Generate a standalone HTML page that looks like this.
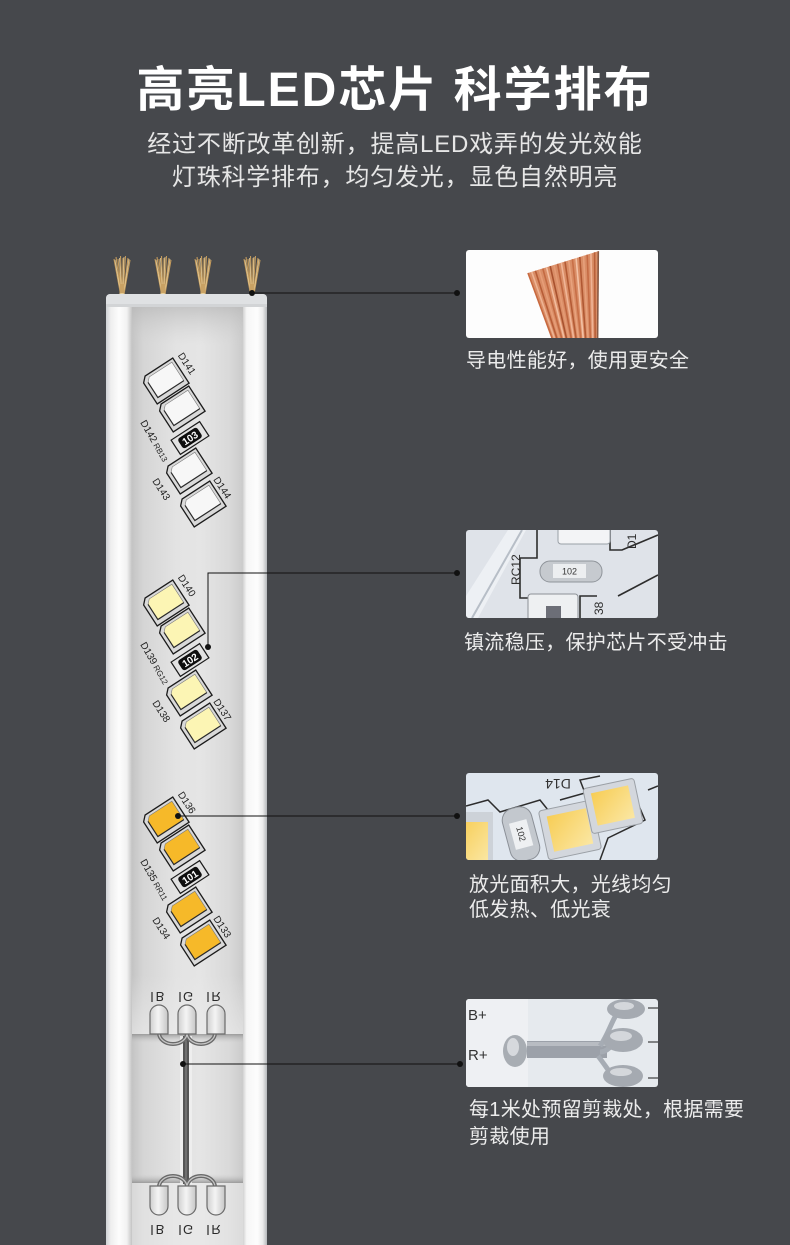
<!DOCTYPE html>
<html><head><meta charset="utf-8">
<style>
html,body{margin:0;padding:0;}
body{width:790px;height:1245px;background:#46484c;position:relative;overflow:hidden;font-family:"Liberation Sans","Noto Sans CJK SC",sans-serif;}
svg{position:absolute;left:0;top:0;}
.t{position:absolute;white-space:nowrap;}
#title{left:0;width:790px;text-align:center;top:61px;font-size:48px;font-weight:bold;color:#fff;letter-spacing:2px;line-height:60px;}
.sub{left:0;width:790px;text-align:center;font-size:24px;color:#e6e6e6;letter-spacing:0.8px;line-height:30px;}
.lbl{font-size:20px;color:#ececec;letter-spacing:0.3px;}
.lb{font-family:"Liberation Sans",sans-serif;font-size:10px;fill:#1e1e1e;}
</style></head><body>
<svg width="790" height="1245" viewBox="0 0 790 1245">
<defs>
 <linearGradient id="railL" x1="0" x2="1" y1="0" y2="0">
  <stop offset="0" stop-color="#cfd2d5"/><stop offset="0.18" stop-color="#eeeeee"/><stop offset="0.5" stop-color="#fdfdfd"/><stop offset="0.8" stop-color="#f2f2f2"/><stop offset="1" stop-color="#c4c4c4"/>
 </linearGradient>
 <linearGradient id="railR" x1="0" x2="1" y1="0" y2="0">
  <stop offset="0" stop-color="#d2d2d2"/><stop offset="0.15" stop-color="#f6f6f6"/><stop offset="0.6" stop-color="#fdfdfd"/><stop offset="0.82" stop-color="#ececec"/><stop offset="1" stop-color="#b5b8bb"/>
 </linearGradient>
 <linearGradient id="chan" x1="0" x2="1" y1="0" y2="0">
  <stop offset="0" stop-color="#c4c4c4"/><stop offset="0.1" stop-color="#d5d5d5"/><stop offset="0.4" stop-color="#e3e3e3"/><stop offset="0.62" stop-color="#e5e5e5"/><stop offset="0.88" stop-color="#d9d9d9"/><stop offset="1" stop-color="#cbcbcb"/>
 </linearGradient>
 <linearGradient id="chanTop" x1="0" x2="0" y1="0" y2="1">
  <stop offset="0" stop-color="#b5b5b5" stop-opacity="0.7"/><stop offset="1" stop-color="#cfcfcf" stop-opacity="0"/>
 </linearGradient>
 <linearGradient id="fadeIn" x1="0" x2="0" y1="0" y2="1">
  <stop offset="0" stop-color="#ececec" stop-opacity="0"/><stop offset="1" stop-color="#ececec" stop-opacity="0.6"/>
 </linearGradient>
 <linearGradient id="shDown" x1="0" x2="0" y1="0" y2="1">
  <stop offset="0" stop-color="#8d8d8d" stop-opacity="0.8"/><stop offset="1" stop-color="#c8c8c8" stop-opacity="0"/>
 </linearGradient>
 <linearGradient id="shUp" x1="0" x2="0" y1="1" y2="0">
  <stop offset="0" stop-color="#8d8d8d" stop-opacity="0.8"/><stop offset="1" stop-color="#c8c8c8" stop-opacity="0"/>
 </linearGradient>
 <linearGradient id="pad" x1="0" x2="1" y1="0" y2="0">
  <stop offset="0" stop-color="#cfcfcf"/><stop offset="0.45" stop-color="#f4f4f4"/><stop offset="1" stop-color="#c6c6c6"/>
 </linearGradient>
 <linearGradient id="yel" x1="0" x2="1" y1="0" y2="1">
  <stop offset="0" stop-color="#f7cd55"/><stop offset="1" stop-color="#fbe7a4"/>
 </linearGradient>
 <g id="chip">
  <path d="M-19,-10 L-14,-15 L19,-15 L19,15 L-19,15 Z" fill="#d9d9d9" stroke="#1b1b1b" stroke-width="1.3"/>
  <path d="M-15,-8 L-11,-12 L16,-12 L16,10 L-15,10 Z" stroke="#7a7a7a" stroke-width="0.6"/>
  <path d="M-15,-8 V10 H16" fill="none" stroke="#2a2a2a" stroke-width="1.2"/>
 </g>
 <g id="wire">
  <path d="M-8,259 L-1.5,294 M-6,257 L-1,294 M-4,259 L-0.5,294 M-1.5,256 L0,294 M1,258 L0.5,294 M3.5,256 L1,294 M6,258 L1.5,294 M8,260 L2,294" stroke="#c29a5c" stroke-width="1.1" fill="none"/>
  <path d="M-7,260 L-1.2,294 M-2.5,258 L-0.3,294 M2,257 L0.7,294 M7,259 L1.7,294" stroke="#e6cc98" stroke-width="0.8" fill="none"/>
  <rect x="-2.5" y="284" width="5" height="12" fill="#c9a264"/>
  <ellipse cx="0" cy="296" rx="4" ry="3" fill="#e9d3a0"/>
 </g>
 <clipPath id="c1"><rect x="466" y="250" width="192" height="88" rx="3"/></clipPath>
 <clipPath id="c2"><rect x="466" y="530" width="192" height="88" rx="3"/></clipPath>
 <clipPath id="c3"><rect x="466" y="773" width="192" height="87" rx="3"/></clipPath>
 <clipPath id="c4"><rect x="466" y="999" width="192" height="88" rx="3"/></clipPath>
</defs>

<!-- wires -->
<use href="#wire" transform="translate(122,0)"/>
<use href="#wire" transform="translate(163,0)"/>
<use href="#wire" transform="translate(203,0)"/>
<use href="#wire" transform="translate(252,0)"/>

<!-- strip -->
<rect x="106" y="294" width="161" height="960" rx="5" fill="#e6e6e6"/>
<rect x="106" y="305" width="26" height="945" fill="url(#railL)"/>
<rect x="132" y="305" width="111" height="945" fill="url(#chan)"/>
<rect x="132" y="305" width="111" height="40" fill="url(#chanTop)"/>
<rect x="243" y="305" width="24" height="945" fill="url(#railR)"/>
<rect x="106" y="294" width="161" height="13" rx="4" fill="#dfe1e3"/>
<rect x="106" y="304" width="161" height="3" fill="#d2d4d6"/>

<!-- LED group 1 -->
<g>
<use href="#chip" fill="#f7f7f7" transform="translate(165,381) rotate(-33)"/>
<use href="#chip" fill="#f7f7f7" transform="translate(181,409) rotate(-33)"/>
<use href="#chip" fill="#f7f7f7" transform="translate(188,471) rotate(-33)"/>
<use href="#chip" fill="#f7f7f7" transform="translate(202,504) rotate(-33)"/>
<g transform="translate(190,438) rotate(-33)">
 <rect x="-17" y="-8.5" width="34" height="17" fill="#e2e2e2" stroke="#1b1b1b" stroke-width="1.2"/>
 <rect x="-11.5" y="-6" width="23" height="12" rx="3" fill="#0e0e0e"/>
 <text x="0" y="3.6" text-anchor="middle" font-size="10" fill="#fff" font-weight="bold" font-family="Liberation Sans">103</text>
</g>
<text class="lb" transform="translate(177.5,355.4) rotate(57)">D141</text>
<text class="lb" transform="translate(140,422.5) rotate(60)">D142<tspan font-size="8"> RB13</tspan></text>
<text class="lb" transform="translate(152,481) rotate(57)">D143</text>
<text class="lb" transform="translate(213,479.5) rotate(57)">D144</text>
</g>

<!-- LED group 2 -->
<g transform="translate(0,222)">
<use href="#chip" fill="#fcf5b4" transform="translate(165,381) rotate(-33)"/>
<use href="#chip" fill="#fcf5b4" transform="translate(181,409) rotate(-33)"/>
<use href="#chip" fill="#fcf5b4" transform="translate(188,471) rotate(-33)"/>
<use href="#chip" fill="#fcf5b4" transform="translate(202,504) rotate(-33)"/>
<g transform="translate(190,438) rotate(-33)">
 <rect x="-17" y="-8.5" width="34" height="17" fill="#e2e2e2" stroke="#1b1b1b" stroke-width="1.2"/>
 <rect x="-11.5" y="-6" width="23" height="12" rx="3" fill="#0e0e0e"/>
 <text x="0" y="3.6" text-anchor="middle" font-size="10" fill="#fff" font-weight="bold" font-family="Liberation Sans">102</text>
</g>
<text class="lb" transform="translate(177.5,355.4) rotate(57)">D140</text>
<text class="lb" transform="translate(140,422.5) rotate(60)">D139<tspan font-size="8"> RG12</tspan></text>
<text class="lb" transform="translate(152,481) rotate(57)">D138</text>
<text class="lb" transform="translate(213,479.5) rotate(57)">D137</text>
</g>

<!-- LED group 3 -->
<g transform="translate(0,439)">
<use href="#chip" fill="#f6b929" transform="translate(165,381) rotate(-33)"/>
<use href="#chip" fill="#f6b929" transform="translate(181,409) rotate(-33)"/>
<use href="#chip" fill="#f6b929" transform="translate(188,471) rotate(-33)"/>
<use href="#chip" fill="#f6b929" transform="translate(202,504) rotate(-33)"/>
<g transform="translate(190,438) rotate(-33)">
 <rect x="-17" y="-8.5" width="34" height="17" fill="#e2e2e2" stroke="#1b1b1b" stroke-width="1.2"/>
 <rect x="-11.5" y="-6" width="23" height="12" rx="3" fill="#0e0e0e"/>
 <text x="0" y="3.6" text-anchor="middle" font-size="10" fill="#fff" font-weight="bold" font-family="Liberation Sans">101</text>
</g>
<text class="lb" transform="translate(177.5,355.4) rotate(57)">D136</text>
<text class="lb" transform="translate(140,422.5) rotate(60)">D135<tspan font-size="8"> RR11</tspan></text>
<text class="lb" transform="translate(152,481) rotate(57)">D134</text>
<text class="lb" transform="translate(213,479.5) rotate(57)">D133</text>
</g>

<!-- bottom cut section -->
<rect x="132" y="975" width="111" height="59" fill="url(#fadeIn)"/>
<rect x="132" y="1034" width="111" height="9" fill="url(#shDown)"/>
<rect x="132" y="1174" width="111" height="9" fill="url(#shUp)"/>
<rect x="132" y="1183" width="111" height="62" fill="#ececec" opacity="0.5"/>
<!-- labels -->
<g font-family="Liberation Sans" font-size="13" fill="#2a2a2a">
 <text transform="translate(160,992) scale(1,-1)" text-anchor="middle">B</text>
 <text transform="translate(188,992) scale(1,-1)" text-anchor="middle">G</text>
 <text transform="translate(216,992) scale(1,-1)" text-anchor="middle">R</text>
 <text transform="translate(160,1225) scale(1,-1)" text-anchor="middle">B</text>
 <text transform="translate(188,1225) scale(1,-1)" text-anchor="middle">G</text>
 <text transform="translate(216,1225) scale(1,-1)" text-anchor="middle">R</text>
</g>
<g stroke="#2a2a2a" stroke-width="1.2">
 <path d="M152,992 V1002 M180,992 V1002 M208,992 V1002 M152,1225 V1235 M180,1225 V1235 M208,1225 V1235"/>
</g>
<!-- wire -->
<rect x="180" y="1036" width="12" height="148" fill="#f2f2f2" opacity="0.75"/>
<rect x="183" y="1036" width="6" height="148" fill="#555"/>
<line x1="186" y1="1036" x2="186" y2="1184" stroke="#8a8a8a" stroke-width="1"/>
<!-- arcs -->
<g fill="none">
 <path d="M159,1033 A14,11 0 0 0 187,1033 M187,1033 A14,11 0 0 0 215,1033" stroke="#6a6a6a" stroke-width="4"/>
 <path d="M159,1033 A14,11 0 0 0 187,1033 M187,1033 A14,11 0 0 0 215,1033" stroke="#c8c8c8" stroke-width="1.2"/>
 <path d="M159,1187 A14,11 0 0 1 187,1187 M187,1187 A14,11 0 0 1 215,1187" stroke="#6a6a6a" stroke-width="4"/>
 <path d="M159,1187 A14,11 0 0 1 187,1187 M187,1187 A14,11 0 0 1 215,1187" stroke="#c8c8c8" stroke-width="1.2"/>
</g>
<!-- pads -->
<g fill="url(#pad)" stroke="#6b6b6b" stroke-width="1.2">
 <path d="M150,1034 V1014 A9,9 0 0 1 168,1014 V1034 Z"/>
 <path d="M178,1034 V1014 A9,9 0 0 1 196,1014 V1034 Z"/>
 <path d="M207,1034 V1014 A9,9 0 0 1 225,1014 V1034 Z"/>
 <path d="M150,1186 V1206 A9,9 0 0 0 168,1206 V1186 Z"/>
 <path d="M178,1186 V1206 A9,9 0 0 0 196,1206 V1186 Z"/>
 <path d="M207,1186 V1206 A9,9 0 0 0 225,1206 V1186 Z"/>
</g>

<!-- connectors -->
<g stroke="#111" stroke-width="1" fill="none">
 <path d="M252,293 H457"/>
 <path d="M208,647 V573 H457"/>
 <path d="M178,816 H457"/>
 <path d="M183,1064 H460"/>
</g>
<g fill="#111">
 <circle cx="252" cy="293" r="3"/><circle cx="457" cy="293" r="3"/>
 <circle cx="208" cy="647" r="3"/><circle cx="457" cy="573" r="3"/>
 <circle cx="178" cy="816" r="3"/><circle cx="457" cy="816" r="3"/>
 <circle cx="183" cy="1064" r="3"/><circle cx="460" cy="1064" r="3"/>
</g>

<!-- thumb 1: copper wires -->
<g clip-path="url(#c1)">
 <rect x="466" y="250" width="192" height="88" fill="#fdfdfd"/>
 <polygon points="552,338 598,338 599,251 528,273" fill="#d98d66"/>
 <g stroke-width="1.6">
  <line x1="552" y1="338" x2="528" y2="273" stroke="#c8693f"/>
  <line x1="554.4" y1="338" x2="531.7" y2="271.9" stroke="#eeb393"/>
  <line x1="556.8" y1="338" x2="535.4" y2="270.7" stroke="#b85d37"/>
  <line x1="559.2" y1="338" x2="539.1" y2="269.6" stroke="#e79d77"/>
  <line x1="561.6" y1="338" x2="542.8" y2="268.4" stroke="#c46a42"/>
  <line x1="564" y1="338" x2="546.5" y2="267.3" stroke="#f2bc9e"/>
  <line x1="566.4" y1="338" x2="550.2" y2="266.1" stroke="#a9522f"/>
  <line x1="568.8" y1="338" x2="553.9" y2="265" stroke="#e49a74"/>
  <line x1="571.2" y1="338" x2="557.6" y2="263.8" stroke="#c06640"/>
  <line x1="573.6" y1="338" x2="561.3" y2="262.7" stroke="#f0b597"/>
  <line x1="576" y1="338" x2="565" y2="261.5" stroke="#b45b35"/>
  <line x1="578.4" y1="338" x2="568.7" y2="260.4" stroke="#e8a27d"/>
  <line x1="580.8" y1="338" x2="572.4" y2="259.2" stroke="#c86f47"/>
  <line x1="583.2" y1="338" x2="576.1" y2="258.1" stroke="#f3c1a5"/>
  <line x1="585.6" y1="338" x2="579.8" y2="256.9" stroke="#b05833"/>
  <line x1="588" y1="338" x2="583.5" y2="255.8" stroke="#e6a07b"/>
  <line x1="590.4" y1="338" x2="587.2" y2="254.6" stroke="#c56b44"/>
  <line x1="592.8" y1="338" x2="590.9" y2="253.5" stroke="#efb396"/>
  <line x1="595.2" y1="338" x2="594.6" y2="252.3" stroke="#b9603a"/>
  <line x1="597.6" y1="338" x2="598.3" y2="251.2" stroke="#8a5a44"/>
 </g>
</g>

<!-- thumb 2: resistor closeup -->
<g clip-path="url(#c2)">
 <rect x="466" y="530" width="192" height="88" fill="#dfe3e9"/>
 <path d="M466,596 L508,530 L526,530 L478,618 L466,618 Z" fill="#edf0f4"/>
 <path d="M472,618 L522,530" stroke="#b7bec7" stroke-width="2"/>
 <g stroke="#2d2d2d" stroke-width="1.6" fill="none">
  <path d="M537,530 V558 H520 V598 H534"/>
  <path d="M580,618 V596 H597"/>
  <path d="M610,530 V550 H622 L658,535"/>
  <path d="M618,596 L658,575"/>
 </g>
 <rect x="558" y="527" width="52" height="17" rx="3" fill="#f3f4f6" stroke="#9aa0a7"/>
 <rect x="540" y="561" width="62" height="21" rx="10" fill="#c6cacf" stroke="#8f949a"/>
 <rect x="553" y="564" width="33" height="14" fill="#eceef0"/>
 <text x="569.5" y="574.5" text-anchor="middle" font-family="Liberation Sans" font-size="9" fill="#333">102</text>
 <rect x="528" y="594" width="50" height="28" rx="3" fill="#eef0f2" stroke="#8c9096"/>
 <rect x="546" y="606" width="15" height="14" fill="#6c6e77"/>
 <g font-family="Liberation Sans" font-size="12" fill="#2d2d2d">
  <text transform="translate(520,585) rotate(-90)">RC12</text>
  <text transform="translate(603,615) rotate(-90)">38</text>
  <text transform="translate(636,549) rotate(-90)">D1</text>
 </g>
</g>

<!-- thumb 3: LED closeup -->
<g clip-path="url(#c3)">
 <rect x="466" y="773" width="192" height="87" fill="#dfe6ee"/>
 <g stroke="#2d2d2d" stroke-width="1.5" fill="none">
  <path d="M466,806 L488,800 L500,812 L540,800 L548,810"/>
  <path d="M560,800 L585,793 L580,780 L600,776"/>
  <path d="M633,792 L645,820 L608,838 L600,860"/>
  <path d="M648,790 L658,786"/>
 </g>
 <rect x="455" y="812" width="38" height="52" fill="#cdd2d8"/>
 <rect x="459" y="822" width="29" height="40" fill="url(#yel)"/>
 <g transform="translate(521,834) rotate(-15)">
  <rect x="-15" y="-27" width="30" height="54" rx="12" fill="#c3c8ce" stroke="#8b9097"/>
  <rect x="-9" y="-13" width="18" height="27" fill="#eef0f2"/>
  <text transform="rotate(90)" x="0" y="3" text-anchor="middle" font-family="Liberation Sans" font-size="9" fill="#333">102</text>
 </g>
 <g transform="translate(570,830) rotate(-12)">
  <rect x="-27" y="-25" width="54" height="50" rx="3" fill="#d3d7dd" stroke="#9ba0a6"/>
  <rect x="-20" y="-18" width="40" height="36" fill="url(#yel)"/>
 </g>
 <g transform="translate(613,806) rotate(-12)">
  <rect x="-26" y="-23" width="52" height="46" rx="3" fill="#d3d7dd" stroke="#9ba0a6"/>
  <rect x="-19" y="-17" width="38" height="33" fill="url(#yel)"/>
 </g>
 <text transform="translate(558,779) rotate(180)" text-anchor="middle" font-family="Liberation Sans" font-size="14" fill="#333">D14</text>
</g>

<!-- thumb 4: solder joint -->
<g clip-path="url(#c4)">
 <rect x="466" y="999" width="192" height="88" fill="#e6eaee"/>
 <rect x="466" y="999" width="62" height="88" fill="#eef0f3"/>
 <rect x="527" y="1041" width="80" height="17" fill="#9ca1a9"/>
 <rect x="527" y="1042" width="80" height="4" fill="#b8bcc2"/>
 <g stroke="#a6acb4" stroke-width="5" fill="none">
  <path d="M600,1046 C608,1035 612,1020 618,1012"/>
  <path d="M600,1052 C608,1052 612,1044 616,1042"/>
  <path d="M598,1056 C606,1066 610,1074 614,1076"/>
 </g>
 <ellipse cx="515" cy="1051" rx="12" ry="16" fill="#a8adb3"/>
 <ellipse cx="513" cy="1047" rx="6" ry="9" fill="#d6d9dd"/>
 <ellipse cx="626" cy="1009" rx="19" ry="10" fill="#a5aab1"/>
 <ellipse cx="624" cy="1006" rx="10" ry="4" fill="#d4d7db"/>
 <ellipse cx="623" cy="1040" rx="20" ry="12" fill="#a5aab1"/>
 <ellipse cx="621" cy="1036" rx="11" ry="5" fill="#d4d7db"/>
 <ellipse cx="623" cy="1076" rx="20" ry="11" fill="#a5aab1"/>
 <ellipse cx="621" cy="1072" rx="11" ry="4" fill="#d4d7db"/>
 <g stroke="#444" stroke-width="1.2">
  <path d="M648,1008 H658 M648,1042 H658 M648,1078 H658"/>
 </g>
 <g font-family="Liberation Sans" font-size="15" fill="#333">
  <text x="468" y="1020">B+</text>
  <text x="468" y="1060">R+</text>
 </g>
</g>
</svg>

<div class="t" id="title">高亮LED芯片 科学排布</div>
<div class="t sub" style="top:130px;">经过不断改革创新，提高LED戏弄的发光效能</div>
<div class="t sub" style="top:163px;">灯珠科学排布，均匀发光，显色自然明亮</div>

<div class="t lbl" style="left:466px;top:348px;line-height:26px;">导电性能好，使用更安全</div>
<div class="t lbl" style="left:464px;top:630px;line-height:26px;">镇流稳压，保护芯片不受冲击</div>
<div class="t lbl" style="left:469px;top:873px;line-height:25px;">放光面积大，光线均匀<br>低发热、低光衰</div>
<div class="t lbl" style="left:469px;top:1097px;line-height:27px;">每1米处预留剪裁处，根据需要<br>剪裁使用</div>
</body></html>
